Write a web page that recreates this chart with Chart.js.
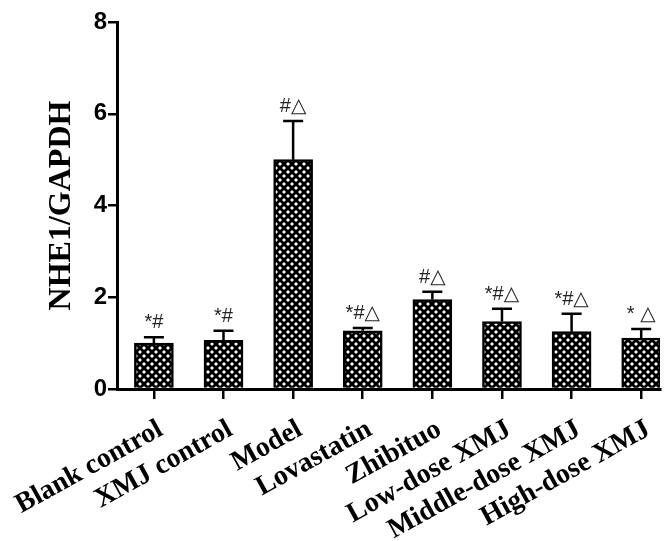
<!DOCTYPE html>
<html>
<head>
<meta charset="utf-8">
<script src="https://cdn.jsdelivr.net/npm/chart.js@4"></script>
<style>
html, body { margin: 0; padding: 0; background: #fff; overflow: hidden; }
</style>
</head>
<body>
<canvas id="chart" width="667" height="541"></canvas>
<script>
const groups = ['Blank control', 'XMJ control', 'Model', 'Lovastatin', 'Zhibituo', 'Low-dose XMJ', 'Middle-dose XMJ', 'High-dose XMJ'];
const means = [1.00, 1.06, 5.00, 1.27, 1.95, 1.47, 1.25, 1.11];
const errors = [0.13, 0.21, 0.84, 0.06, 0.17, 0.28, 0.39, 0.20];
const marks = ['*#', '*#', '#△', '*#△', '#△', '*#△', '*#△', '* △'];
const yTicks = [0, 2, 4, 6, 8];

// motif croisillon noir/blanc
function crossHatch() {
    const c = document.createElement('canvas');
    c.width = 8;
    c.height = 8;
    const g = c.getContext('2d');
    g.fillStyle = '#fff';
    g.fillRect(0, 0, 8, 8);
    g.strokeStyle = '#000';
    g.lineWidth = 2.9;
    g.beginPath();
    g.moveTo(-2, -2); g.lineTo(10, 10);
    g.moveTo(10, -2); g.lineTo(-2, 10);
    g.stroke();
    return g.createPattern(c, 'repeat');
}

// barres d'erreur + marques de significativite
const errorBars = {
    id: 'errorBars',
    afterDatasetsDraw(chart) {
        const ctx = chart.ctx;
        const x = chart.scales.x;
        const y = chart.scales.y;
        ctx.save();
        ctx.strokeStyle = '#000';
        ctx.lineWidth = 2.5;
        means.forEach((m, i) => {
            const px = x.getPixelForValue(i);
            const y0 = y.getPixelForValue(m);
            const y1 = y.getPixelForValue(m + errors[i]);
            ctx.beginPath();
            ctx.moveTo(px, y0);
            ctx.lineTo(px, y1);
            ctx.moveTo(px - 10, y1);
            ctx.lineTo(px + 10, y1);
            ctx.stroke();
            ctx.fillStyle = '#222';
            ctx.font = '20px "Liberation Sans", "DejaVu Sans"';
            ctx.textAlign = 'center';
            ctx.textBaseline = 'alphabetic';
            ctx.fillText(marks[i], px, y1 - 9);
        });
        ctx.restore();
    }
};

new Chart(document.getElementById('chart'), {
    type: 'bar',
    data: {
        datasets: [{
            data: means.map((v, i) => ({ x: i, y: v })),
            backgroundColor: crossHatch(),
            borderColor: '#000',
            borderWidth: 2.5,
            barThickness: 39
        }]
    },
    options: {
        responsive: false,
        animation: false,
        devicePixelRatio: 1,
        layout: { padding: { left: 36, top: 22, right: 7, bottom: 0 } },
        plugins: {
            legend: { display: false },
            tooltip: { enabled: false }
        },
        scales: {
            x: {
                type: 'linear',
                offset: false,
                min: -0.53,
                max: 7.27,
                afterBuildTicks: s => { s.ticks = groups.map((g, i) => ({ value: i })); },
                afterFit: s => {
                    s.height = 152;
                    s.paddingLeft = 0;
                    s.paddingRight = 0;
                },
                ticks: {
                    callback: v => groups[v],
                    autoSkip: false,
                    minRotation: 29,
                    maxRotation: 29,
                    padding: 14,
                    labelOffset: 7,
                    color: '#000',
                    font: { family: '"Liberation Serif"', size: 28, weight: 'bold' }
                },
                grid: { drawOnChartArea: false, offset: false, tickLength: 10, color: '#000', lineWidth: 2.5 },
                border: { display: true, color: '#000', width: 3 }
            },
            y: {
                min: 0,
                max: 8,
                afterBuildTicks: s => { s.ticks = yTicks.map(v => ({ value: v })); },
                afterFit: s => {
                    s.width = 81;
                    s.paddingTop = 0;
                    s.paddingBottom = 0;
                },
                ticks: {
                    padding: 1,
                    color: '#000',
                    font: { family: '"Liberation Sans"', size: 24, weight: 'bold' }
                },
                grid: { drawOnChartArea: false, tickLength: 9, color: '#000', lineWidth: 2.5 },
                border: { display: true, color: '#000', width: 3 },
                title: {
                    display: true,
                    text: 'NHE1/GAPDH',
                    color: '#000',
                    padding: { top: 7, bottom: 0 },
                    font: { family: '"Liberation Serif"', size: 32, weight: 'bold' }
                }
            }
        }
    },
    plugins: [errorBars]
});
</script>
</body>
</html>
